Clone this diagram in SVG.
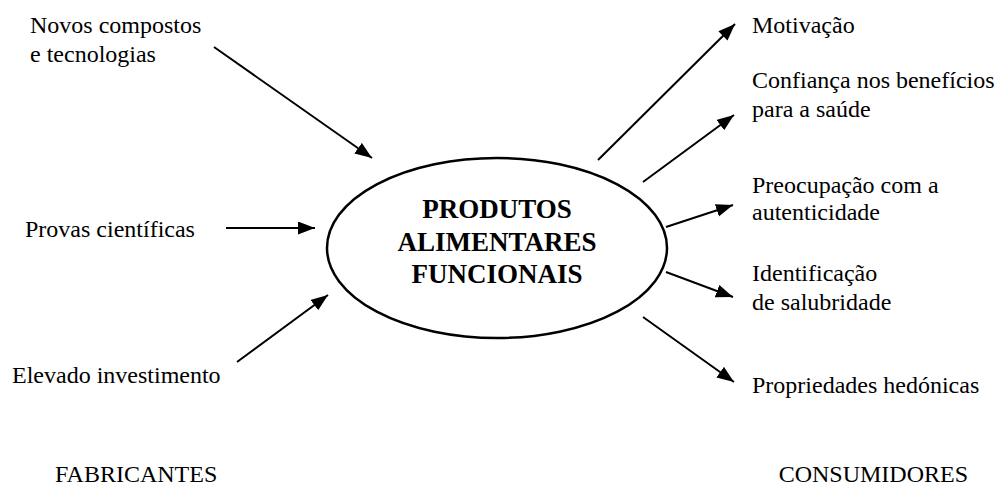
<svg xmlns="http://www.w3.org/2000/svg" width="1008" height="485" viewBox="0 0 1008 485">
<defs>
<marker id="ah" markerUnits="userSpaceOnUse" markerWidth="18" markerHeight="14" refX="17" refY="6.5" orient="auto">
<path d="M0,0 L17,6.5 L0,13 z" fill="#000"/>
</marker>
<style>
.t{font-family:"Times New Roman","Liberation Serif",Times,serif;font-size:24px;fill:#000}
.b{font-family:"Times New Roman","Liberation Serif",Times,serif;font-size:27px;font-weight:bold;fill:#000}
.c line{stroke:#000;stroke-width:2;marker-end:url(#ah)}
</style>
</defs>
<rect width="1008" height="485" fill="#fff"/>
<g id="center">
<ellipse cx="497" cy="248" rx="170" ry="90" fill="none" stroke="#000" stroke-width="2.5"/>
<text class="b" x="497" y="218" text-anchor="middle">PRODUTOS</text>
<text class="b" x="497" y="251" text-anchor="middle">ALIMENTARES</text>
<text class="b" x="497" y="283" text-anchor="middle">FUNCIONAIS</text>
</g>
<g id="novos"><text class="t" x="30" y="33">Novos compostos</text><text class="t" x="30" y="62">e tecnologias</text></g>
<g id="provas"><text class="t" x="25" y="237">Provas científicas</text></g>
<g id="elevado"><text class="t" x="12" y="383">Elevado investimento</text></g>
<g id="motivacao"><text class="t" x="752" y="33">Motivação</text></g>
<g id="confianca"><text class="t" x="752" y="88">Confiança nos benefícios</text><text class="t" x="752" y="117">para a saúde</text></g>
<g id="preocupacao"><text class="t" x="752" y="193">Preocupação com a</text><text class="t" x="752" y="220">autenticidade</text></g>
<g id="identificacao"><text class="t" x="752" y="281">Identificação</text><text class="t" x="752" y="310">de salubridade</text></g>
<g id="propriedades"><text class="t" x="752" y="393">Propriedades hedónicas</text></g>
<g id="fabricantes"><text class="t" x="55" y="482">FABRICANTES</text></g>
<g id="consumidores"><text class="t" x="968" y="482" text-anchor="end">CONSUMIDORES</text></g>
<g id="connectors" class="c">
<line x1="214" y1="47" x2="372" y2="158"/>
<line x1="226" y1="228" x2="315" y2="228"/>
<line x1="237" y1="362" x2="328" y2="295"/>
<line x1="598" y1="160" x2="735" y2="24"/>
<line x1="643" y1="182" x2="734" y2="115"/>
<line x1="666" y1="227" x2="733" y2="205"/>
<line x1="666" y1="272" x2="733" y2="297"/>
<line x1="643" y1="317" x2="734" y2="382"/>
</g>
</svg>
